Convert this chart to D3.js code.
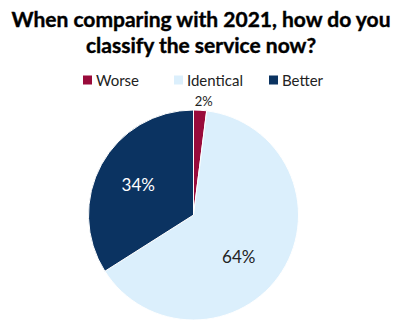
<!DOCTYPE html>
<html>
<head>
<meta charset="utf-8">
<script src="https://cdn.jsdelivr.net/npm/d3@7"></script>
<style>
  body { margin: 0; background: #fff; }
  text { font-family: Lato, "Open Sans", sans-serif; }
</style>
</head>
<body>
<div id="chart"></div>
<script>
var categories = ["Worse", "Identical", "Better"];
var values = [2, 64, 34];
var labels = ["2%", "64%", "34%"];
var colors = ["#990b3b", "#dbeffc", "#0b3361"];
var titleLines = ["When comparing with 2021, how do you", "classify the service now?"];

var width = 400, height = 330;
var cx = 193.5, cy = 215, r = 105;

var svg = d3.select("#chart").append("svg")
    .attr("width", width).attr("height", height);

// title
svg.selectAll("text.title").data(titleLines).enter().append("text")
    .attr("class", "title")
    .attr("x", 201).attr("y", function(d, i){ return 27 + i * 26; })
    .attr("text-anchor", "middle")
    .attr("font-size", 21).attr("font-weight", "bold").attr("fill", "#000")
    .attr("stroke", "#000").attr("stroke-width", 0.4)
    .text(function(d){ return d; });

// legend
var legendX = [83, 174, 269];
var leg = svg.selectAll("g.leg").data(categories).enter().append("g")
    .attr("class", "leg")
    .attr("transform", function(d, i){ return "translate(" + legendX[i] + ",80)"; });
leg.append("rect").attr("x", 0).attr("y", -4.5).attr("width", 9).attr("height", 9)
    .attr("fill", function(d, i){ return colors[i]; });
leg.append("text").attr("x", 13).attr("y", 5.5)
    .attr("font-size", 15).attr("fill", "#222")
    .text(function(d){ return d; });

// pie
var pie = d3.pie().sort(null).value(function(d){ return d; });
var arcs = pie(values);
var arc = d3.arc().innerRadius(0).outerRadius(r);
var labelArc = d3.arc().innerRadius(r * 0.6).outerRadius(r * 0.6);

var g = svg.append("g").attr("transform", "translate(" + cx + "," + cy + ")");
g.selectAll("path").data(arcs).enter().append("path")
    .attr("d", arc)
    .attr("fill", function(d, i){ return colors[i]; })
    .attr("stroke", "#fff").attr("stroke-width", 1);

g.selectAll("text.lbl").data(arcs).enter().append("text")
    .attr("class", "lbl")
    .attr("transform", function(d, i){
        if (i === 0) {
            var a = (d.startAngle + d.endAngle) / 2;
            return "translate(" + (Math.sin(a) * r * 1.08 + 3) + "," + (-Math.cos(a) * r * 1.08) + ")";
        }
        var c = labelArc.centroid(d);
        if (i === 1) { c = [c[0] - 8, c[1] + 8]; }
        return "translate(" + c + ")";
    })
    .attr("text-anchor", "middle").attr("dy", "0.35em")
    .attr("font-size", function(d, i){ return i === 0 ? 13 : 17; })
    .attr("fill", function(d, i){ return i === 2 ? "#fff" : "#222"; })
    .text(function(d, i){ return labels[i]; });
</script>
</body>
</html>
